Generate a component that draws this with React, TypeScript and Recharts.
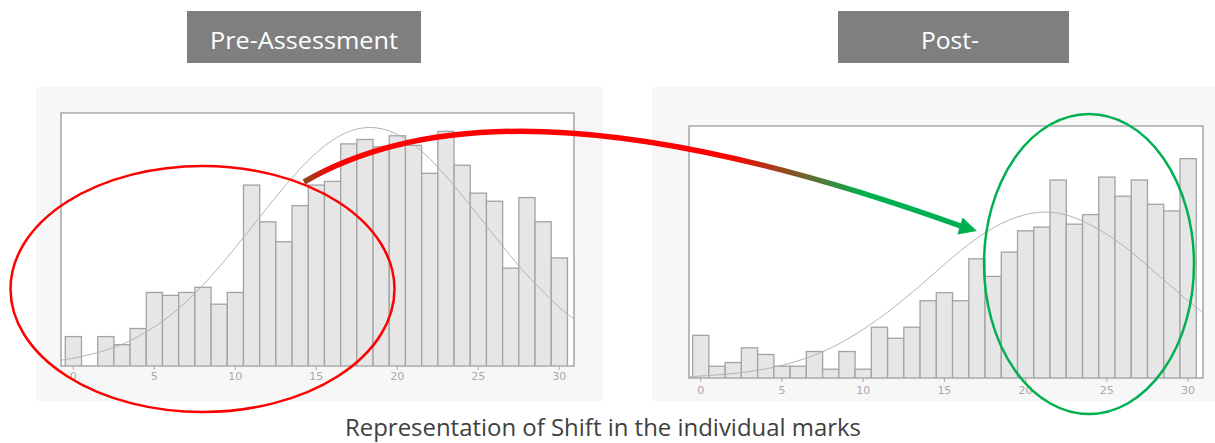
import { Bar, ComposedChart, Line, ReferenceArea, XAxis, YAxis } from "recharts";

document.body.style.margin = "0";

// marks 0..30, one bar per mark
const MARKS = [0, 1, 2, 3, 4, 5, 6, 7, 8, 9, 10, 11, 12, 13, 14, 15, 16, 17, 18, 19, 20, 21, 22, 23, 24, 25, 26, 27, 28, 29, 30];
const PRE_COUNTS = [4.0, 0, 4.0, 2.9, 5.1, 10.0, 9.6, 10.0, 10.7, 8.4, 10.0, 24.6, 19.6, 16.9, 21.8, 24.6, 25.1, 30.2, 30.8, 29.8, 31.3, 30.0, 26.2, 31.9, 27.3, 23.5, 22.4, 13.3, 22.9, 19.6, 14.7];
const POST_COUNTS = [5.8, 1.6, 2.1, 4.1, 3.2, 1.6, 1.6, 3.6, 1.2, 3.6, 1.2, 6.9, 5.4, 6.9, 10.5, 11.6, 10.5, 16.2, 13.8, 17.1, 20.0, 20.5, 26.9, 20.9, 22.2, 27.3, 24.7, 26.9, 23.6, 22.7, 29.8];

// fitted curve
const CURVE_X = [-0.76, 0, 2, 4, 6, 8, 10, 12, 14, 16, 18, 20, 22, 24, 26, 28, 30, 30.92];
const PRE_CURVE = [0.82, 1.06, 2.15, 4.0, 6.9, 11.0, 16.1, 21.6, 26.8, 30.7, 32.4, 31.5, 28.2, 23.2, 17.7, 12.4, 8.0, 6.4];
const POST_CURVE = [0.2, 0.27, 0.61, 1.24, 2.34, 4.07, 6.6, 9.8, 13.5, 17.3, 20.4, 22.2, 22.4, 20.8, 18.0, 14.3, 10.5, 8.9];

const TICKS = [0, 5, 10, 15, 20, 25, 30];

const FRAME = "#a9a9a9";
const BAR_FILL = "#e6e6e6";
const BAR_LINE = "#a3a3a3";
const CURVE = "#b3b3b3";
const RED = "#ff0000";
const GREEN = "#00b050";

type HistProps = {
  left: number;
  top: number;
  width: number;
  height: number;
  margin: { top: number; right: number; left: number; bottom: number };
  domain: [number, number];
  yMax: number;
  counts: number[];
  curve: number[];
  tickMargin: number;
};

function Histogram({ left, top, width, height, margin, domain, yMax, counts, curve, tickMargin }: HistProps) {
  const bars = MARKS.map((m, i) => ({ mark: m, count: counts[i] }));
  const line = CURVE_X.map((x, i) => ({ mark: x, fit: curve[i] }));
  // each bin is one mark wide
  const binPx = (width - margin.left - margin.right) / (domain[1] - domain[0]);

  const binShape = (p: any) => {
    if (!p.height || p.height <= 0) return <g />;
    const cx = p.x + p.width / 2;
    return (
      <rect x={cx - binPx / 2} y={p.y} width={binPx} height={p.height} fill={BAR_FILL} stroke={BAR_LINE} strokeWidth={1.3} />
    );
  };

  return (
    <div style={{ position: "absolute", left, top, width, height, background: "#f7f7f7" }}>
      <ComposedChart width={width} height={height} data={bars} margin={margin}>
        <XAxis
          type="number"
          dataKey="mark"
          domain={domain}
          allowDataOverflow
          ticks={TICKS}
          tick={{ fill: FRAME, fontSize: 11, fontFamily: "DejaVu Sans" }}
          tickLine={{ stroke: FRAME }}
          tickSize={4}
          tickMargin={tickMargin}
          axisLine={false}
          height={30}
        />
        <YAxis hide domain={[0, yMax]} allowDataOverflow />
        <ReferenceArea x1={domain[0]} x2={domain[1]} y1={0} y2={yMax} fill="#ffffff" fillOpacity={1} stroke={FRAME} strokeWidth={1.6} />
        <Bar dataKey="count" shape={binShape} isAnimationActive={false} />
        <Line data={line} dataKey="fit" type="natural" stroke={CURVE} strokeWidth={1} dot={false} isAnimationActive={false} />
      </ComposedChart>
    </div>
  );
}

export default function App() {
  return (
    <div style={{ position: "relative", width: 1215, height: 443, background: "#ffffff", overflow: "hidden" }}>
      <Histogram
        left={36}
        top={87}
        width={567}
        height={314}
        margin={{ top: 26, right: 29, left: 25, bottom: 5 }}
        domain={[-0.76, 30.91]}
        yMax={34.4}
        counts={PRE_COUNTS}
        curve={PRE_CURVE}
        tickMargin={2}
      />
      <Histogram
        left={652}
        top={87}
        width={563}
        height={314}
        margin={{ top: 39, right: 12, left: 37, bottom: -7 }}
        domain={[-0.72, 30.92]}
        yMax={34.24}
        counts={POST_COUNTS}
        curve={POST_CURVE}
        tickMargin={4}
      />

      <svg width={1215} height={443} style={{ position: "absolute", left: 0, top: 0, pointerEvents: "none" }}>
        <defs>
          <linearGradient id="shift" gradientUnits="userSpaceOnUse" x1={304} y1={0} x2={977} y2={0}>
            <stop offset="0" stopColor="#8a4a1c" />
            <stop offset="0.04" stopColor={RED} />
            <stop offset="0.63" stopColor={RED} />
            <stop offset="0.83" stopColor={GREEN} />
            <stop offset="1" stopColor={GREEN} />
          </linearGradient>
        </defs>

        <rect x={187} y={11} width={234} height={52} fill="#7f7f7f" />
        <text x={210} y={49} fill="#ffffff" fontFamily="Open Sans" fontSize={24} textLength={188} lengthAdjust="spacingAndGlyphs">
          Pre-Assessment
        </text>
        <rect x={838} y={11} width={231} height={52} fill="#7f7f7f" />
        <text x={921} y={49} fill="#ffffff" fontFamily="Open Sans" fontSize={24} textLength={58} lengthAdjust="spacingAndGlyphs">
          Post-
        </text>

        <ellipse cx={202.5} cy={289} rx={192} ry={123} fill="none" stroke={RED} strokeWidth={2.5} />
        <ellipse cx={1089} cy={264} rx={105} ry={150} fill="none" stroke={GREEN} strokeWidth={2.5} />

        <path d="M 304 182 C 420 115, 610 100, 962 226.5" fill="none" stroke="url(#shift)" strokeWidth={5.5} />
        <polygon points="977,231 962.6,217.4 957.4,234.6" fill={GREEN} />

        <text x={345} y={436} fill="#404040" fontFamily="Open Sans" fontSize={23} textLength={516} lengthAdjust="spacingAndGlyphs">
          Representation of Shift in the individual marks
        </text>
      </svg>
    </div>
  );
}
